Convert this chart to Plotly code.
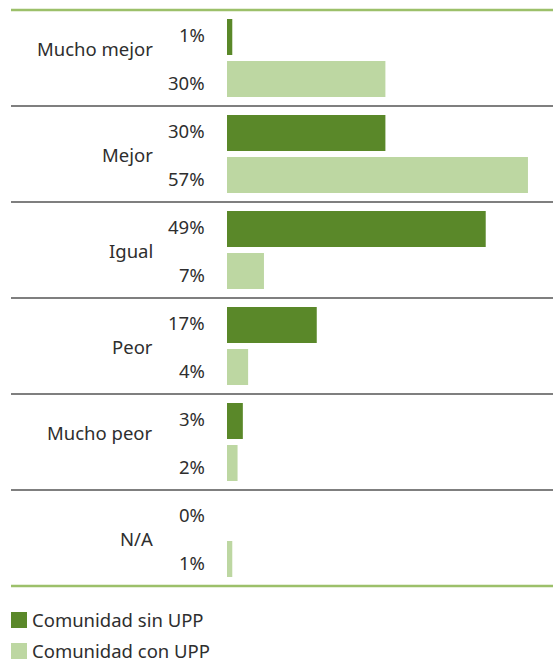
import plotly.graph_objects as go

# Survey answers and the share of each community group giving them (%)
categories = ["Mucho mejor", "Mejor", "Igual", "Peor", "Mucho peor", "N/A"]
series_names = ["Comunidad sin UPP", "Comunidad con UPP"]
sin_upp = [1, 30, 49, 17, 3, 0]
con_upp = [30, 57, 7, 4, 2, 1]

# Styling
W, H = 553, 662
DARK = "#5a8829"
LIGHT = "#bdd7a2"
RULE_GREEN = "#9cc06a"
RULE_GRAY = "#7f7f7f"
TEXT = "#2e2e2e"
FONT = "Noto Sans"
FS = 18.5

TOP, BOTTOM = 10, 586          # plot area in pixels
BAR_X0 = 227                   # pixel where the value axis starts
PX_PER_PCT = 5.28
n = len(categories)
group_h = (BOTTOM - TOP) / n
bar_h = 36 / group_h           # bar thickness in group units
off1 = 27 / group_h            # centre of first bar inside a group
off2 = 69 / group_h            # centre of second bar inside a group
# labels whose text sits a little above the group centre
label_shift = {"Mucho mejor": 10, "Mucho peor": 10}

x_range_max = (W - BAR_X0) / PX_PER_PCT

fig = go.Figure()
fig.add_trace(go.Bar(
    name=series_names[0], orientation="h",
    x=sin_upp, y=[i + off1 for i in range(n)], width=bar_h,
    marker=dict(color=DARK, line=dict(width=0)), showlegend=False,
))
fig.add_trace(go.Bar(
    name=series_names[1], orientation="h",
    x=con_upp, y=[i + off2 for i in range(n)], width=bar_h,
    marker=dict(color=LIGHT, line=dict(width=0)), showlegend=False,
))

shapes = []
annotations = []


def px_x(p):
    # pixel column -> paper x (plot area spans the full width)
    return p / W


def px_y(p):
    # pixel row -> paper y (paper 1 at TOP, paper 0 at BOTTOM)
    return (BOTTOM - p) / (BOTTOM - TOP)


# top and bottom green rules, gray separators between groups
for k in range(n + 1):
    py = TOP + k * group_h
    is_edge = k in (0, n)
    shapes.append(dict(
        type="line", xref="paper", yref="paper",
        x0=px_x(11), x1=1, y0=px_y(py), y1=px_y(py),
        line=dict(color=RULE_GREEN if is_edge else RULE_GRAY,
                  width=2.5 if is_edge else 1.8),
        layer="above",
    ))

for i, cat in enumerate(categories):
    annotations.append(dict(
        x=px_x(155), xref="paper", y=i + 0.5, yref="y",
        text=cat, showarrow=False, xanchor="right", yanchor="middle",
        yshift=label_shift.get(cat, 0),
        font=dict(family=FONT, size=FS, color=TEXT),
    ))
    for val, yy in ((sin_upp[i], i + 0.25), (con_upp[i], i + 0.75)):
        annotations.append(dict(
            x=px_x(207), xref="paper", y=yy, yref="y",
            text=f"{val}%", showarrow=False, xanchor="right", yanchor="middle",
            font=dict(family=FONT, size=FS, color=TEXT),
        ))

# legend swatches and labels below the chart
for j, (name, col) in enumerate(zip(series_names, [DARK, LIGHT])):
    y0 = 612 + j * 31
    shapes.append(dict(
        type="rect", xref="paper", yref="paper",
        x0=px_x(11), x1=px_x(27), y0=px_y(y0), y1=px_y(y0 + 16),
        fillcolor=col, line=dict(width=0),
    ))
    annotations.append(dict(
        x=px_x(30), xref="paper", y=px_y(y0 + 7), yref="paper",
        text=name, showarrow=False, xanchor="left", yanchor="middle",
        font=dict(family=FONT, size=FS, color=TEXT),
    ))

fig.update_layout(
    width=W, height=H,
    margin=dict(l=0, r=0, t=TOP, b=H - BOTTOM, pad=0),
    paper_bgcolor="white", plot_bgcolor="white",
    barmode="overlay",
    xaxis=dict(domain=[BAR_X0 / W, 1], range=[0, x_range_max],
               showgrid=False, zeroline=False, showticklabels=False,
               showline=False, fixedrange=True),
    yaxis=dict(range=[n, 0], showgrid=False, zeroline=False,
               showticklabels=False, showline=False, fixedrange=True),
    shapes=shapes, annotations=annotations,
    showlegend=False,
)

fig.write_html("out.html")
